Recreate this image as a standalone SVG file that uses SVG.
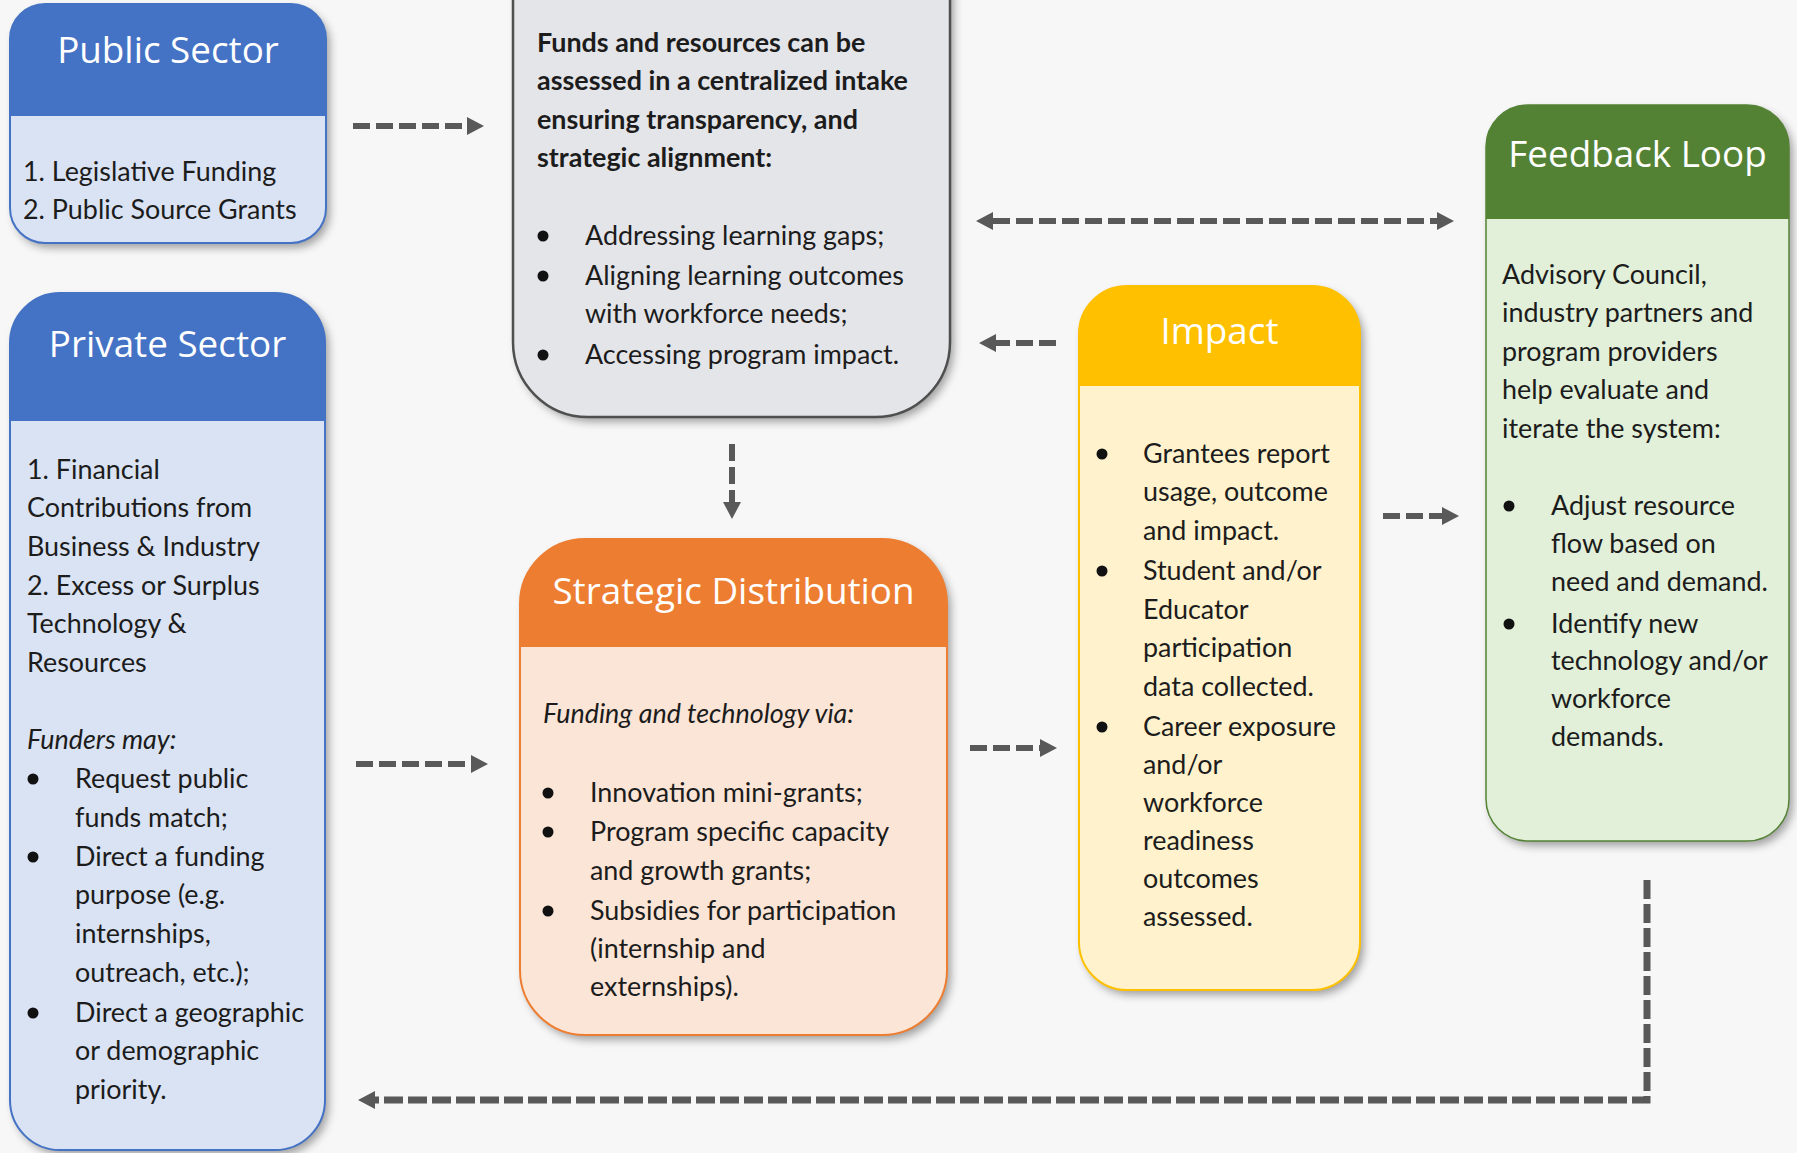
<svg xmlns="http://www.w3.org/2000/svg" width="1797" height="1153" viewBox="0 0 1797 1153">
<defs>
<style>
.title{font-family:"Open Sans","Liberation Sans",sans-serif;font-size:36.8px;fill:#ffffff;text-anchor:middle}
.body{font-family:Lato,"Liberation Sans",sans-serif;font-size:26.9px;fill:#1c1c1c}
.bold{font-weight:bold}
.it{font-style:italic}
.bul{fill:#111}
.conn{stroke:#595959;stroke-width:6;stroke-dasharray:17 6;fill:none}
.loop{stroke:#595959;stroke-width:7;stroke-dasharray:19 5;fill:none}
</style>
<filter id="sh" x="-10%" y="-10%" width="130%" height="130%">
<feDropShadow dx="4" dy="5" stdDeviation="4" flood-color="#000" flood-opacity="0.35"/>
</filter>
<marker id="ah" markerUnits="userSpaceOnUse" markerWidth="17" markerHeight="18" viewBox="0 0 17 18" refX="0" refY="9" orient="auto-start-reverse">
<path d="M0,0 L17,9 L0,18 Z" fill="#595959"/>
</marker>
</defs>
<rect x="0" y="0" width="1797" height="1153" fill="#f7f7f7"/>

<g id="public-sector">
<rect x="10" y="4" width="316" height="239" rx="35" fill="#dae3f3" filter="url(#sh)"/>
<path d="M10,116 V39 A35,35 0 0 1 45,4 H291 A35,35 0 0 1 326,39 V116 Z" fill="#4472c4"/>
<rect x="10" y="4" width="316" height="239" rx="35" fill="none" stroke="#4472c4" stroke-width="2"/>
<text class="title" x="168" y="63">Public Sector</text>
<text class="body" x="23" y="181">1. Legislative Funding</text>
<text class="body" x="23" y="219">2. Public Source Grants</text>
</g>

<g id="private-sector">
<rect x="10" y="293" width="315" height="857" rx="50" fill="#dae3f3" filter="url(#sh)"/>
<path d="M10,421 V343 A50,50 0 0 1 60,293 H275 A50,50 0 0 1 325,343 V421 Z" fill="#4472c4"/>
<rect x="10" y="293" width="315" height="857" rx="50" fill="none" stroke="#4472c4" stroke-width="2"/>
<text class="title" x="167.5" y="357">Private Sector</text>
<text class="body" x="27" y="479">1. Financial</text>
<text class="body" x="27" y="517">Contributions from</text>
<text class="body" x="27" y="556">Business &amp; Industry</text>
<text class="body" x="27" y="595">2. Excess or Surplus</text>
<text class="body" x="27" y="633">Technology &amp;</text>
<text class="body" x="27" y="672">Resources</text>
<text class="body it" x="27" y="749">Funders may:</text>
<circle class="bul" cx="33" cy="779" r="5.5"/>
<text class="body" x="75" y="788">Request public</text>
<text class="body" x="75" y="827">funds match;</text>
<circle class="bul" cx="33" cy="857" r="5.5"/>
<text class="body" x="75" y="866">Direct a funding</text>
<text class="body" x="75" y="904">purpose (e.g.</text>
<text class="body" x="75" y="943">internships,</text>
<text class="body" x="75" y="982">outreach, etc.);</text>
<circle class="bul" cx="33" cy="1013" r="5.5"/>
<text class="body" x="75" y="1022">Direct a geographic</text>
<text class="body" x="75" y="1060">or demographic</text>
<text class="body" x="75" y="1099">priority.</text>
</g>

<g id="central-intake">
<rect x="513" y="-100" width="437" height="517" rx="75" fill="#e4e5e9" filter="url(#sh)"/>
<rect x="513" y="-100" width="437" height="517" rx="75" fill="none" stroke="#4f4f4f" stroke-width="2.5"/>
<text class="body bold" x="537" y="52">Funds and resources can be</text>
<text class="body bold" x="537" y="90">assessed in a centralized intake</text>
<text class="body bold" x="537" y="129">ensuring transparency, and</text>
<text class="body bold" x="537" y="167">strategic alignment:</text>
<circle class="bul" cx="543" cy="236" r="5.5"/>
<text class="body" x="585" y="245">Addressing learning gaps;</text>
<circle class="bul" cx="543" cy="276" r="5.5"/>
<text class="body" x="585" y="285">Aligning learning outcomes</text>
<text class="body" x="585" y="323">with workforce needs;</text>
<circle class="bul" cx="543" cy="355" r="5.5"/>
<text class="body" x="585" y="364">Accessing program impact.</text>
</g>

<g id="strategic-distribution">
<rect x="520" y="539" width="427" height="496" rx="65" fill="#fbe5d6" filter="url(#sh)"/>
<path d="M520,647 V604 A65,65 0 0 1 585,539 H882 A65,65 0 0 1 947,604 V647 Z" fill="#ed7d31"/>
<rect x="520" y="539" width="427" height="496" rx="65" fill="none" stroke="#ed7d31" stroke-width="2"/>
<text class="title" x="733.5" y="604">Strategic Distribution</text>
<text class="body it" x="543" y="723">Funding and technology via:</text>
<circle class="bul" cx="548" cy="793" r="5.5"/>
<text class="body" x="590" y="802">Innovation mini-grants;</text>
<circle class="bul" cx="548" cy="832" r="5.5"/>
<text class="body" x="590" y="841">Program specific capacity</text>
<text class="body" x="590" y="880">and growth grants;</text>
<circle class="bul" cx="548" cy="911" r="5.5"/>
<text class="body" x="590" y="920">Subsidies for participation</text>
<text class="body" x="590" y="958">(internship and</text>
<text class="body" x="590" y="996">externships).</text>
</g>

<g id="impact">
<rect x="1079" y="286" width="281" height="704" rx="48" fill="#fff2cc" filter="url(#sh)"/>
<path d="M1079,386 V334 A48,48 0 0 1 1127,286 H1312 A48,48 0 0 1 1360,334 V386 Z" fill="#ffc000"/>
<rect x="1079" y="286" width="281" height="704" rx="48" fill="none" stroke="#ffc000" stroke-width="2"/>
<text class="title" x="1219.5" y="344">Impact</text>
<circle class="bul" cx="1102" cy="454" r="5.5"/>
<text class="body" x="1143" y="463">Grantees report</text>
<text class="body" x="1143" y="501">usage, outcome</text>
<text class="body" x="1143" y="540">and impact.</text>
<circle class="bul" cx="1102" cy="571" r="5.5"/>
<text class="body" x="1143" y="580">Student and/or</text>
<text class="body" x="1143" y="619">Educator</text>
<text class="body" x="1143" y="657">participation</text>
<text class="body" x="1143" y="696">data collected.</text>
<circle class="bul" cx="1102" cy="727" r="5.5"/>
<text class="body" x="1143" y="736">Career exposure</text>
<text class="body" x="1143" y="774">and/or</text>
<text class="body" x="1143" y="812">workforce</text>
<text class="body" x="1143" y="850">readiness</text>
<text class="body" x="1143" y="888">outcomes</text>
<text class="body" x="1143" y="926">assessed.</text>
</g>

<g id="feedback-loop">
<rect x="1486" y="105" width="303" height="736" rx="42" fill="#e2f0d9" filter="url(#sh)"/>
<path d="M1486,219 V147 A42,42 0 0 1 1528,105 H1747 A42,42 0 0 1 1789,147 V219 Z" fill="#548235"/>
<rect x="1486" y="105" width="303" height="736" rx="42" fill="none" stroke="#548235" stroke-width="1.5"/>
<text class="title" x="1637.5" y="167">Feedback Loop</text>
<text class="body" x="1502" y="284">Advisory Council,</text>
<text class="body" x="1502" y="322">industry partners and</text>
<text class="body" x="1502" y="361">program providers</text>
<text class="body" x="1502" y="399">help evaluate and</text>
<text class="body" x="1502" y="438">iterate the system:</text>
<circle class="bul" cx="1509" cy="506" r="5.5"/>
<text class="body" x="1551" y="515">Adjust resource</text>
<text class="body" x="1551" y="553">flow based on</text>
<text class="body" x="1551" y="591">need and demand.</text>
<circle class="bul" cx="1509" cy="624" r="5.5"/>
<text class="body" x="1551" y="633">Identify new</text>
<text class="body" x="1551" y="670">technology and/or</text>
<text class="body" x="1551" y="708">workforce</text>
<text class="body" x="1551" y="746">demands.</text>
</g>

<g id="connectors">
<path class="conn" d="M353,126 H467" marker-end="url(#ah)"/>
<path class="conn" d="M356,764 H471" marker-end="url(#ah)"/>
<path class="conn" d="M732,444 V502" marker-end="url(#ah)"/>
<path class="conn" d="M970,748 H1040" marker-end="url(#ah)"/>
<path class="conn" d="M1056,343 H996" marker-end="url(#ah)"/>
<path class="conn" d="M993,221 H1437" marker-start="url(#ah)" marker-end="url(#ah)"/>
<path class="conn" d="M1383,516 H1442" marker-end="url(#ah)"/>
<path class="loop" d="M1647,880 V1100 H375" marker-end="url(#ah)"/>
</g>
</svg>
